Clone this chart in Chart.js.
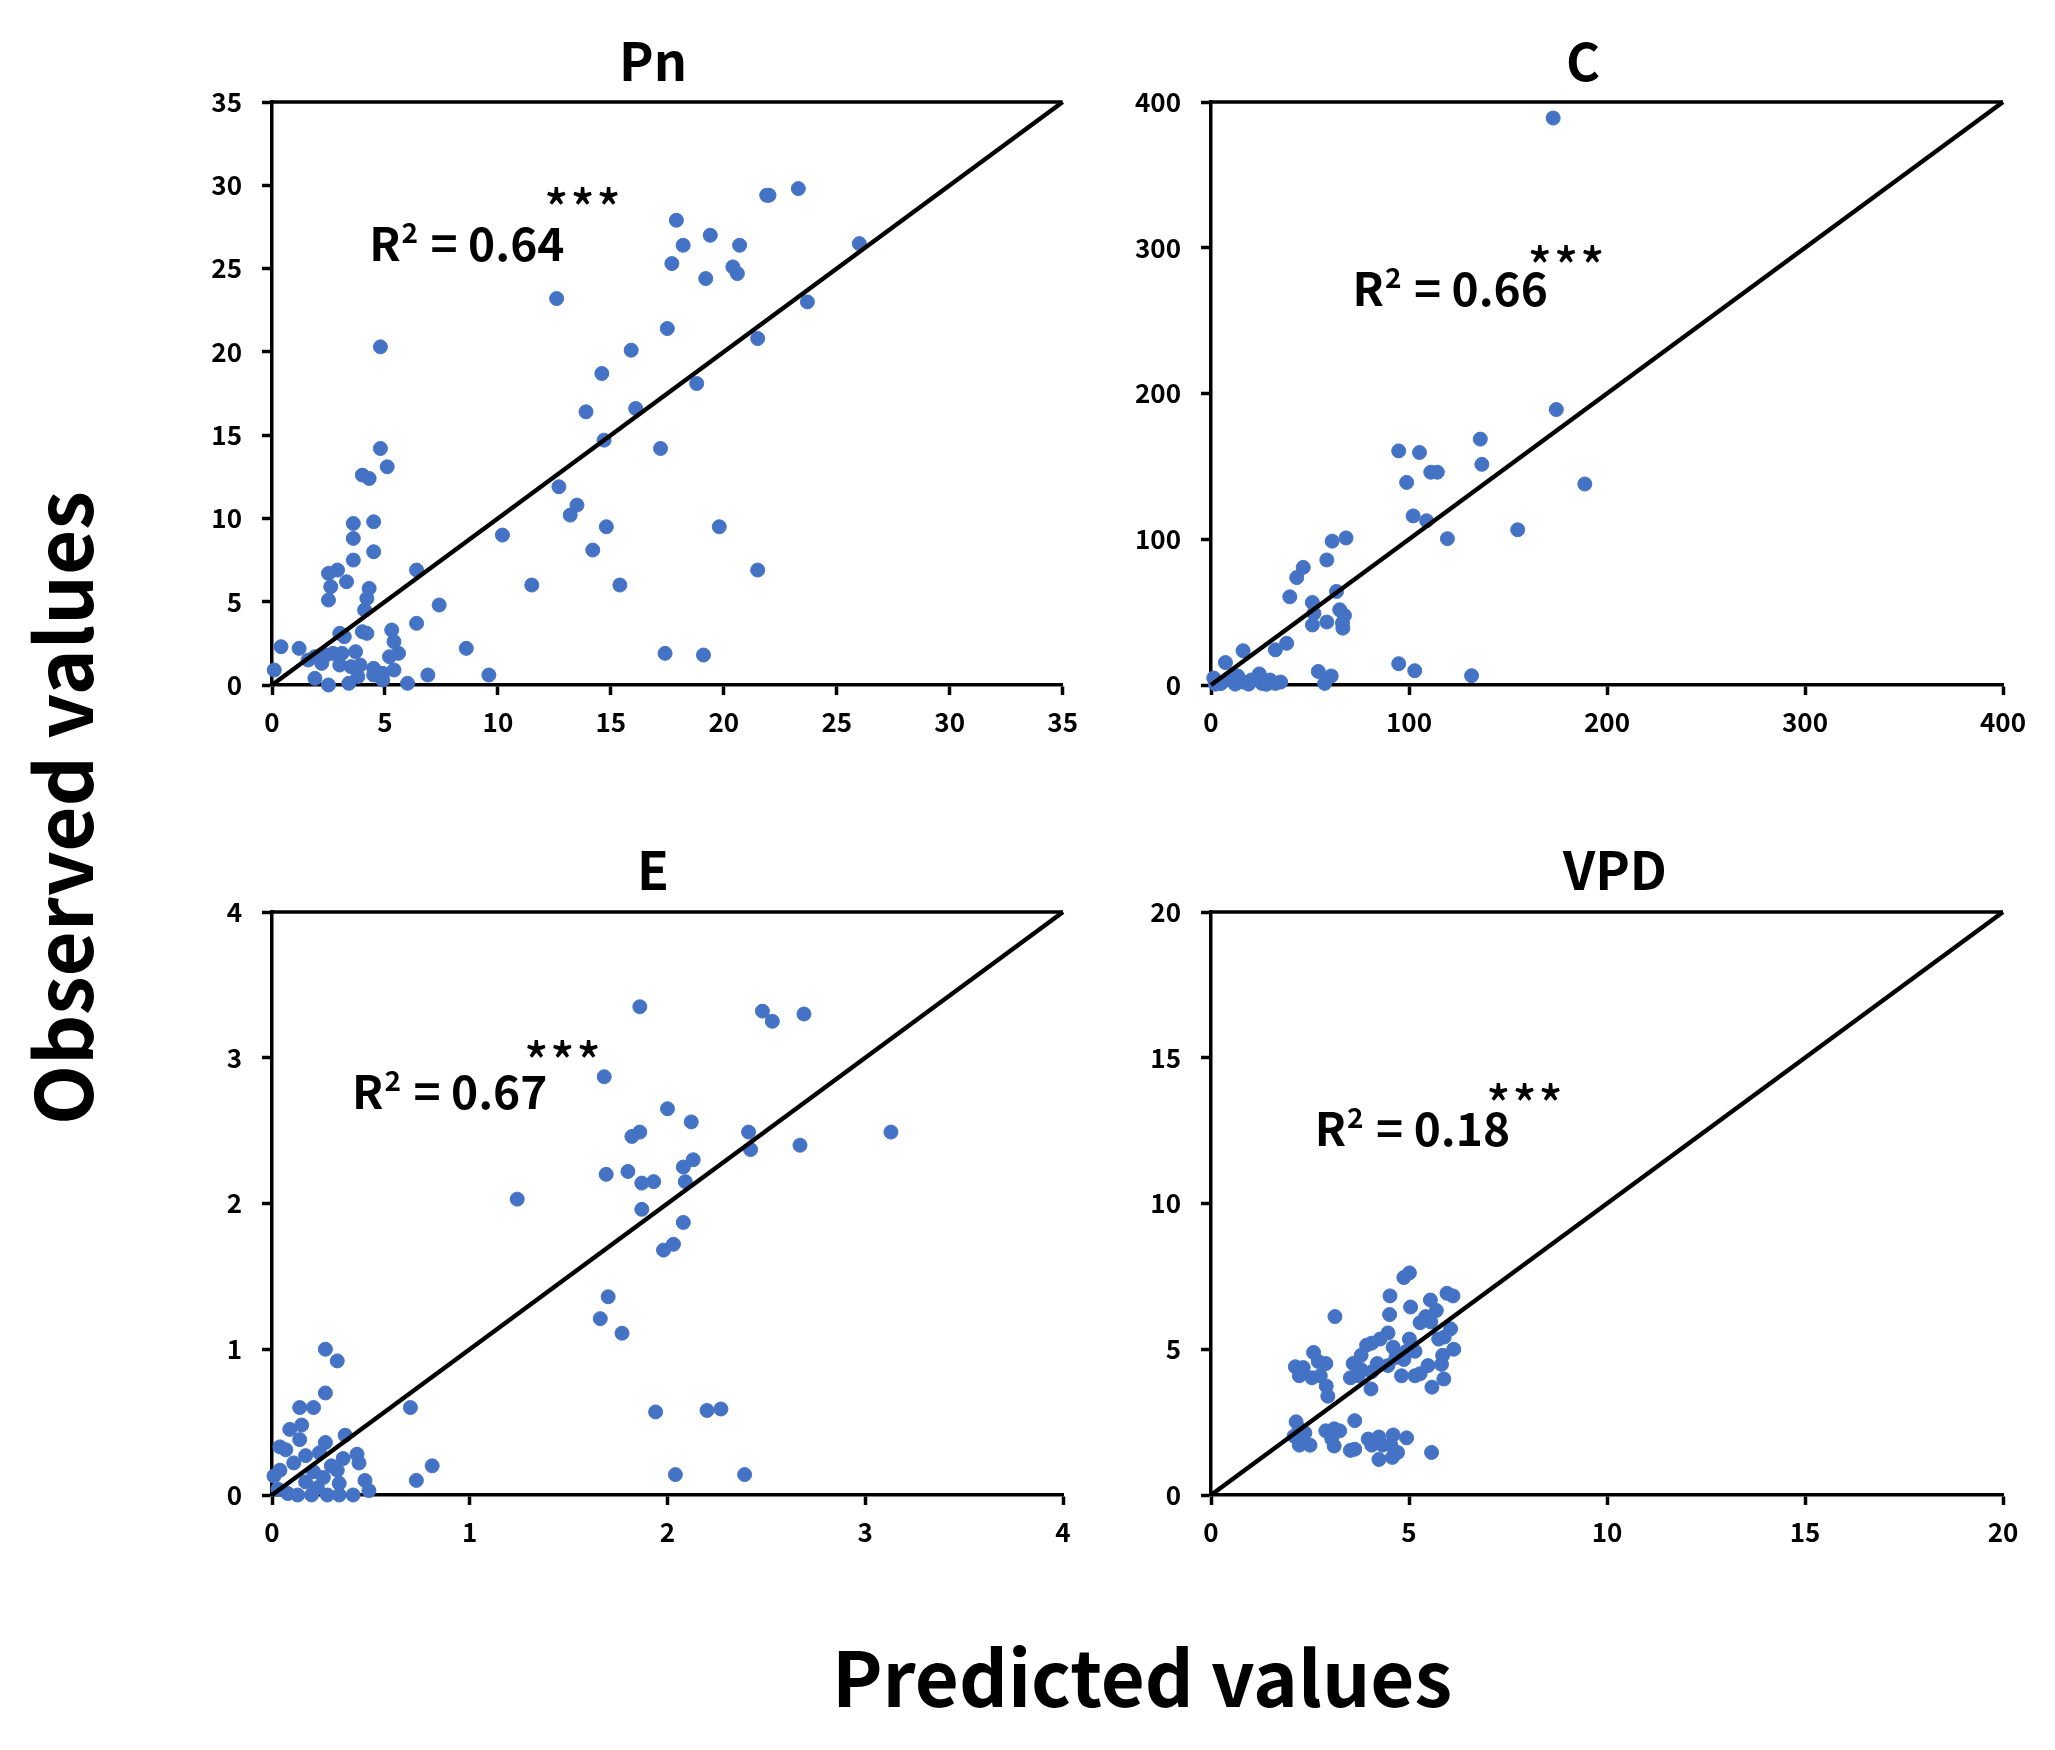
<!DOCTYPE html>
<html>
<head>
<meta charset="utf-8">
<title>Observed vs predicted</title>
<script src="https://cdn.jsdelivr.net/npm/chart.js@4.4.1/dist/chart.umd.min.js"></script>
<style>
  html, body { margin: 0; padding: 0; background: #fff; }
  #page { position: relative; width: 2055px; height: 1750px; overflow: hidden; background: #fff; }
  #page canvas { position: absolute; }
  .axis-title {
    position: absolute;
    font-family: "Noto Sans CJK KR", "Noto Sans", sans-serif;
    font-weight: bold;
    font-size: 78px;
    line-height: 78px;
    color: #000;
    white-space: nowrap;
    transform: translate(-50%, -50%);
  }
  #ytitle { left: 59px; top: 808px; transform: translate(-50%, -50%) rotate(-90deg); }
  #xtitle { left: 1142px; top: 1674px; font-size: 76px; }
</style>
</head>
<body>
<div id="page">
  <canvas id="pn" width="950" height="770" style="left:140px; top:0px;"></canvas>
  <canvas id="c" width="965" height="770" style="left:1090px; top:0px;"></canvas>
  <canvas id="e" width="950" height="780" style="left:140px; top:800px;"></canvas>
  <canvas id="vpd" width="965" height="780" style="left:1090px; top:800px;"></canvas>
  <div class="axis-title" id="ytitle">Observed values</div>
  <div class="axis-title" id="xtitle">Predicted values</div>
</div>
<script>
const FONT = '"Noto Sans CJK KR", "Noto Sans", sans-serif';

// ---- data ----
const titles = ['Pn', 'C', 'E', 'VPD'];
const r2Values = ['0.64', '0.66', '0.67', '0.18'];
const signif = '***';
const axisMax = [35, 400, 4, 20];
const axisStep = [5, 100, 1, 5];

const pnPred = [
  23.3, 21.9, 22.0, 17.9, 19.4, 18.2, 20.7, 26.0, 17.7, 20.4,
  20.6, 19.2, 12.6, 23.7, 17.5, 21.5, 4.8, 15.9, 14.6, 18.8,
  13.9, 16.1, 14.7, 17.2, 4.8, 5.1, 4.0, 4.3, 12.7, 13.5,
  13.2, 14.8, 19.8, 3.6, 4.5, 10.2, 3.6, 14.2, 4.5, 3.6,
  21.5, 6.4, 2.5, 2.9, 3.3, 2.6, 4.3, 11.5, 15.4, 2.5,
  4.2, 4.1, 7.4, 6.4, 5.3, 4.0, 4.2, 3.0, 3.2, 5.4,
  0.4, 1.2, 8.6, 17.4, 19.1, 3.7, 5.6, 5.2, 3.1, 2.7,
  1.6, 1.9, 2.4, 2.2, 3.0, 3.5, 3.9, 4.5, 4.9, 4.5,
  5.4, 0.1, 6.9, 9.6, 1.9, 3.8, 4.9, 2.5, 3.4, 6.0
];
const pnObs = [
  29.8, 29.4, 29.4, 27.9, 27.0, 26.4, 26.4, 26.5, 25.3, 25.1,
  24.7, 24.4, 23.2, 23.0, 21.4, 20.8, 20.3, 20.1, 18.7, 18.1,
  16.4, 16.6, 14.7, 14.2, 14.2, 13.1, 12.6, 12.4, 11.9, 10.8,
  10.2, 9.5, 9.5, 9.7, 9.8, 9.0, 8.8, 8.1, 8.0, 7.5,
  6.9, 6.9, 6.7, 6.9, 6.2, 5.9, 5.8, 6.0, 6.0, 5.1,
  5.2, 4.5, 4.8, 3.7, 3.3, 3.2, 3.1, 3.1, 2.9, 2.6,
  2.3, 2.2, 2.2, 1.9, 1.8, 2.0, 1.9, 1.7, 1.9, 1.9,
  1.5, 1.7, 1.8, 1.3, 1.2, 1.1, 1.2, 1.0, 0.7, 0.6,
  0.9, 0.9, 0.6, 0.6, 0.4, 0.5, 0.3, 0.0, 0.1, 0.1
];

const cPred = [
  172.8, 174.4, 136.0, 94.8, 105.3, 136.8, 111.0, 114.3, 98.8, 188.8,
  102.1, 108.9, 154.9, 68.2, 61.2, 119.4, 58.5, 46.6, 43.3, 63.4,
  39.8, 51.2, 65.0, 52.0, 67.4, 66.4, 58.5, 51.2, 66.6, 38.2,
  32.5, 16.2, 7.3, 94.8, 102.9, 54.2, 60.7, 131.6, 57.4, 1.4,
  2.2, 9.5, 13.5, 16.2, 20.3, 24.4, 25.7, 29.8, 35.2, 32.5,
  12.2, 19.0, 5.0, 28.0
];
const cObs = [
  389.0, 189.0, 168.7, 160.6, 159.5, 151.4, 146.0, 146.0, 139.0, 137.9,
  116.0, 112.7, 106.5, 100.9, 98.7, 100.4, 85.8, 80.7, 73.7, 64.2,
  60.5, 56.6, 51.6, 49.1, 47.7, 42.6, 43.2, 41.2, 39.0, 28.6,
  24.1, 23.5, 15.4, 14.6, 9.8, 9.3, 6.2, 6.4, 1.1, 4.8,
  0.6, 3.4, 6.2, 2.0, 3.4, 7.6, 1.1, 3.4, 2.0, 1.1,
  0.6, 0.6, 1.0, 0.5
];

const ePred = [
  1.86, 2.48, 2.53, 2.69, 1.68, 2.00, 2.12, 1.82, 1.86, 2.41,
  3.13, 2.67, 2.42, 2.13, 2.08, 1.69, 1.80, 1.87, 1.93, 2.09,
  1.24, 1.87, 2.08, 2.03, 1.98, 1.70, 1.66, 1.77, 1.94, 2.20,
  2.27, 2.04, 2.39, 0.70, 0.81, 0.73, 0.27, 0.33, 0.27, 0.14,
  0.21, 0.15, 0.09, 0.14, 0.27, 0.37, 0.04, 0.07, 0.17, 0.43,
  0.36, 0.24, 0.11, 0.44, 0.04, 0.01, 0.30, 0.33, 0.47, 0.21,
  0.26, 0.34, 0.17, 0.49, 0.41, 0.08, 0.13, 0.20, 0.28, 0.34,
  0.03, 0.23
];
const eObs = [
  3.35, 3.32, 3.25, 3.30, 2.87, 2.65, 2.56, 2.46, 2.49, 2.49,
  2.49, 2.40, 2.37, 2.30, 2.25, 2.20, 2.22, 2.14, 2.15, 2.15,
  2.03, 1.96, 1.87, 1.72, 1.68, 1.36, 1.21, 1.11, 0.57, 0.58,
  0.59, 0.14, 0.14, 0.60, 0.20, 0.10, 1.00, 0.92, 0.70, 0.60,
  0.60, 0.48, 0.45, 0.38, 0.36, 0.41, 0.33, 0.31, 0.27, 0.28,
  0.25, 0.29, 0.22, 0.22, 0.17, 0.13, 0.20, 0.17, 0.10, 0.16,
  0.12, 0.08, 0.09, 0.03, 0.00, 0.01, 0.00, 0.00, 0.00, 0.00,
  0.04, 0.05
];

const vpdPred = [
  5.01, 4.87, 4.52, 5.96, 6.11, 5.54, 5.04, 5.69, 5.42, 5.28,
  5.55, 4.51, 3.13, 6.05, 5.75, 5.89, 6.13, 5.85, 5.82, 5.88,
  5.58, 5.57, 5.48, 5.28, 5.15, 5.01, 4.94, 4.87, 4.81, 5.15,
  4.47, 4.27, 4.06, 4.60, 4.67, 4.47, 3.93, 3.79, 3.59, 3.79,
  3.52, 3.72, 4.04, 4.20, 4.06, 2.59, 2.71, 2.90, 2.13, 2.33,
  2.23, 2.55, 2.76, 2.91, 2.95, 2.15, 2.23, 2.10, 2.37, 2.23,
  2.50, 2.90, 3.11, 3.25, 3.05, 3.11, 3.63, 3.52, 3.63, 3.97,
  4.06, 4.24, 4.33, 4.24, 4.60, 4.54, 4.71, 4.58, 4.94
];
const vpdObs = [
  7.62, 7.46, 6.83, 6.92, 6.83, 6.69, 6.45, 6.33, 6.12, 5.91,
  5.94, 6.19, 6.12, 5.70, 5.35, 5.42, 5.00, 4.79, 4.48, 3.98,
  3.70, 1.46, 4.44, 4.16, 4.09, 5.35, 4.93, 4.65, 4.09, 4.93,
  5.56, 5.35, 5.21, 5.07, 4.72, 4.44, 5.14, 4.79, 4.51, 4.30,
  4.02, 4.09, 3.64, 4.51, 4.23, 4.89, 4.58, 4.51, 4.40, 4.37,
  4.09, 4.02, 4.09, 3.74, 3.39, 2.51, 2.27, 2.02, 2.13, 1.71,
  1.71, 2.20, 2.27, 2.20, 1.92, 1.68, 2.55, 1.53, 1.57, 1.92,
  1.71, 1.99, 1.71, 1.22, 2.06, 1.71, 1.46, 1.29, 1.96
];

const predicted = [pnPred, cPred, ePred, vpdPred];
const observed = [pnObs, cObs, eObs, vpdObs];

// ---- layout / style per panel ----
const panelLayout = [
  { canvas: 'pn',  padTop: 102, padRight: 27, yWidth: 132, xHeight: 85, titleX: 513, titleY: 81,
    r2At: [4.3, 25.45], starsAt: [12.05, 29.36] },
  { canvas: 'c',   padTop: 102, padRight: 52, yWidth: 121, xHeight: 85, titleX: 493, titleY: 81,
    r2At: [71.5, 259.7], starsAt: [160.0, 296] },
  { canvas: 'e',   padTop: 112, padRight: 27, yWidth: 132, xHeight: 85, titleX: 513, titleY: 90,
    r2At: [0.405, 2.648], starsAt: [1.275, 3.063] },
  { canvas: 'vpd', padTop: 112, padRight: 52, yWidth: 121, xHeight: 85, titleX: 525, titleY: 90,
    r2At: [2.62, 11.96], starsAt: [6.95, 13.82] }
];

const panelText = {
  id: 'panelText',
  afterDraw(chart, args, o) {
    const ctx = chart.ctx;
    const a = chart.chartArea;
    const xs = chart.scales.x, ys = chart.scales.y;
    ctx.save();

    // top frame line
    ctx.strokeStyle = '#000';
    ctx.lineWidth = 3.5;
    ctx.beginPath();
    ctx.moveTo(a.left, a.top);
    ctx.lineTo(a.right, a.top);
    ctx.stroke();

    ctx.fillStyle = '#000';
    ctx.textBaseline = 'alphabetic';

    // panel title
    ctx.textAlign = 'center';
    ctx.font = 'bold 52px ' + FONT;
    ctx.fillText(o.title, o.titleX, o.titleY);

    // R² = value
    ctx.textAlign = 'left';
    let px = xs.getPixelForValue(o.r2At[0]);
    const py = ys.getPixelForValue(o.r2At[1]);
    ctx.font = 'bold 46px ' + FONT;
    ctx.fillText('R', px, py);
    px += ctx.measureText('R').width + 1;
    ctx.font = 'bold 28px ' + FONT;
    ctx.fillText('2', px, py - 18);
    px += ctx.measureText('2').width + 2;
    ctx.font = 'bold 46px ' + FONT;
    ctx.fillText(' = ' + o.r2, px, py);

    // significance stars, centred vertically on the given value
    ctx.font = '500 50px ' + FONT;
    ctx.letterSpacing = '2px';
    const m = ctx.measureText(o.stars);
    const sx = xs.getPixelForValue(o.starsAt[0]);
    const sy = ys.getPixelForValue(o.starsAt[1]);
    ctx.fillText(o.stars, sx, sy + (m.actualBoundingBoxAscent - m.actualBoundingBoxDescent) / 2);
    ctx.restore();
  }
};

Chart.register(panelText);

function makePanel(i) {
  const L = panelLayout[i];
  const max = axisMax[i];
  const pts = predicted[i].map((v, k) => ({ x: v, y: observed[i][k] }));

  const axis = (fit) => ({
    type: 'linear',
    min: 0,
    max: max,
    border: { display: true, color: '#000', width: 3.5 },
    grid: { drawOnChartArea: false, color: '#000', tickColor: '#000', tickLength: 10, tickWidth: 3.5 },
    ticks: { stepSize: axisStep[i], color: '#000', font: { family: FONT, size: 26, weight: 'bold' } },
    afterFit: fit
  });

  const xAxis = axis(s => { s.height = L.xHeight; });
  xAxis.ticks.padding = 12;
  const yAxis = axis(s => { s.width = L.yWidth; });
  yAxis.ticks.padding = 20;

  new Chart(document.getElementById(L.canvas), {
    type: 'scatter',
    data: {
      datasets: [
        {
          label: '1:1',
          data: [{ x: 0, y: 0 }, { x: max, y: max }],
          showLine: true,
          borderColor: '#000',
          borderWidth: 4.5,
          pointRadius: 0,
          order: 0,
          clip: false
        },
        {
          label: titles[i],
          data: pts,
          pointRadius: 7,
          pointBackgroundColor: '#4472C4',
          pointBorderColor: '#4472C4',
          pointBorderWidth: 1,
          order: 1,
          clip: false
        }
      ]
    },
    options: {
      responsive: false,
      animation: false,
      layout: { padding: { top: L.padTop, right: L.padRight, left: 0, bottom: 0 } },
      scales: { x: xAxis, y: yAxis },
      plugins: {
        legend: { display: false },
        tooltip: { enabled: false },
        panelText: {
          title: titles[i],
          titleX: L.titleX,
          titleY: L.titleY,
          r2: r2Values[i],
          r2At: L.r2At,
          stars: signif,
          starsAt: L.starsAt
        }
      }
    }
  });
}

for (let i = 0; i < 4; i++) makePanel(i);
</script>
</body>
</html>
